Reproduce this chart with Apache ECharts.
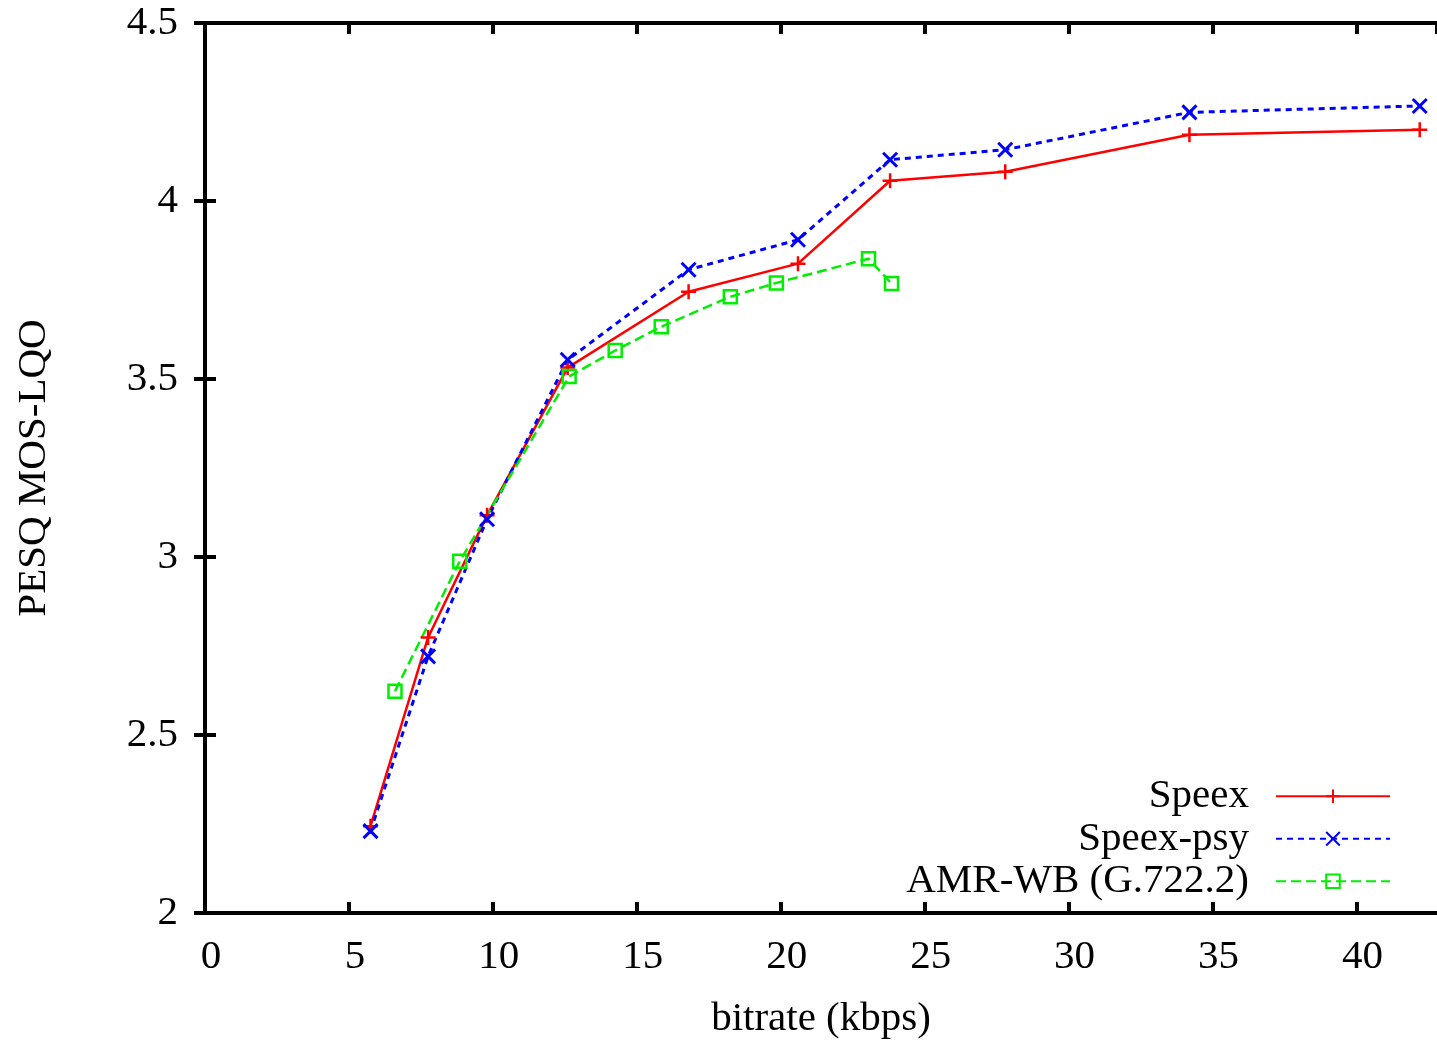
<!DOCTYPE html>
<html>
<head>
<meta charset="utf-8">
<script src="https://cdn.jsdelivr.net/npm/echarts@6/dist/echarts.min.js"></script>
<style>
html,body{margin:0;padding:0;background:#fff;}
#chart{width:1437px;height:1043px;}
</style>
</head>
<body>
<div id="chart"></div>
<script>
// ---- data ----
var seriesNames = ['Speex', 'Speex-psy', 'AMR-WB (G.722.2)'];
var speexX = [5.75, 7.75, 9.8, 12.6, 16.8, 20.6, 23.8, 27.8, 34.2, 42.2];
var speexY = [2.244, 2.774, 3.117, 3.532, 3.745, 3.824, 4.057, 4.082, 4.186, 4.200];
var psyX   = [5.75, 7.75, 9.8, 12.6, 16.8, 20.6, 23.8, 27.8, 34.2, 42.2];
var psyY   = [2.230, 2.721, 3.106, 3.554, 3.807, 3.891, 4.116, 4.144, 4.249, 4.267];
var amrX   = [6.6, 8.85, 12.65, 14.25, 15.85, 18.25, 19.85, 23.05, 23.85];
var amrY   = [2.623, 2.988, 3.507, 3.580, 3.647, 3.731, 3.770, 3.838, 3.768];
var xTicks = {min: 0, max: 42.8, interval: 5};
var yTicks = {min: 2, max: 4.5, interval: 0.5};
var xName = 'bitrate (kbps)';
var yName = 'PESQ MOS-LQO';

function pairs(xs, ys) { return xs.map(function (x, i) { return [x, ys[i]]; }); }

var FONT = 'Liberation Serif';
var FS = 41;
var frame = {show: true, lineStyle: {color: '#000', width: 4}};
var tick = {show: true, inside: true, length: 11, lineStyle: {color: '#000', width: 4}};

var plusPath = 'path://M0,5L10,5M5,0L5,10';
var crossPath = 'path://M0,0L10,10M10,0L0,10';
var squarePath = 'path://M0,0L10,0L10,10L0,10Z';

var chart = echarts.init(document.getElementById('chart'), null, {renderer: 'canvas'});
chart.setOption({
  backgroundColor: '#fff',
  animation: false,
  textStyle: {fontFamily: FONT, color: '#000'},
  grid: {left: 205, top: 23, right: 0, bottom: 130, containLabel: false, outerBoundsMode: 'none'},
  legend: {
    data: seriesNames,
    orient: 'vertical',
    align: 'right',
    right: 46,
    top: 775,
    padding: 0,
    itemGap: 0,
    itemWidth: 114,
    itemHeight: 17,
    textStyle: {fontFamily: FONT, fontSize: FS, color: '#000', lineHeight: 42.5, padding: [0, 22, 0, 0]}
  },
  xAxis: [{
    type: 'value', position: 'bottom', min: xTicks.min, max: xTicks.max, interval: xTicks.interval,
    name: xName, nameLocation: 'middle', nameGap: 86,
    nameTextStyle: {fontFamily: FONT, fontSize: FS, color: '#000'},
    axisLine: frame, axisTick: tick, splitLine: {show: false},
    axisLabel: {fontFamily: FONT, fontSize: FS, color: '#000', margin: 24, showMaxLabel: false, padding: [0, 0, 0, 12]}
  }, {
    type: 'value', position: 'top', min: xTicks.min, max: xTicks.max, interval: xTicks.interval,
    axisLine: frame, axisTick: tick, splitLine: {show: false}, axisLabel: {show: false}
  }],
  yAxis: [{
    type: 'value', position: 'left', min: yTicks.min, max: yTicks.max, interval: yTicks.interval,
    name: yName, nameLocation: 'middle', nameGap: 150, nameRotate: 90,
    nameTextStyle: {fontFamily: FONT, fontSize: FS, color: '#000'},
    axisLine: frame, axisTick: tick, splitLine: {show: false},
    axisLabel: {fontFamily: FONT, fontSize: FS, color: '#000', margin: 27}
  }, {
    type: 'value', position: 'right', min: yTicks.min, max: yTicks.max, interval: yTicks.interval,
    axisLine: {show: false}, axisTick: tick, splitLine: {show: false}, axisLabel: {show: false}
  }],
  series: [{
    name: seriesNames[0], type: 'line', data: pairs(speexX, speexY),
    symbol: plusPath, symbolSize: 15, showAllSymbol: true,
    lineStyle: {color: '#ff0000', width: 2.5, type: 'solid'},
    itemStyle: {color: 'rgba(0,0,0,0)', borderColor: '#ff0000', borderWidth: 2.5}
  }, {
    name: seriesNames[1], type: 'line', data: pairs(psyX, psyY),
    symbol: crossPath, symbolSize: 14, showAllSymbol: true,
    lineStyle: {color: '#0000ff', width: 3, type: [6, 5]},
    itemStyle: {color: 'rgba(0,0,0,0)', borderColor: '#0000ff', borderWidth: 3}
  }, {
    name: seriesNames[2], type: 'line', data: pairs(amrX, amrY),
    symbol: squarePath, symbolSize: 13, showAllSymbol: true,
    lineStyle: {color: '#00ee00', width: 2.5, type: [10, 5]},
    itemStyle: {color: 'rgba(0,0,0,0)', borderColor: '#00ee00', borderWidth: 2.5}
  }]
});
</script>
</body>
</html>
